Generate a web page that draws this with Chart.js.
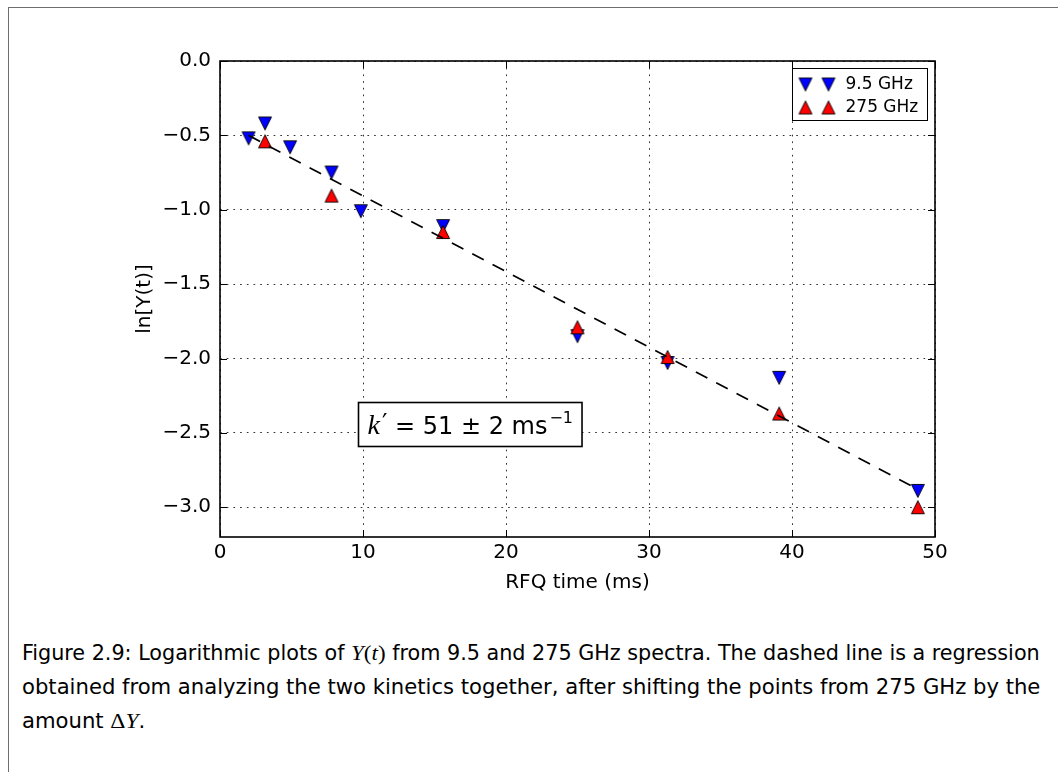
<!DOCTYPE html>
<html>
<head>
<meta charset="utf-8">
<script src="https://cdn.jsdelivr.net/npm/chart.js@4.4.1/dist/chart.umd.min.js"></script>
<style>
  html, body { margin: 0; padding: 0; background: #fff; overflow: hidden; width: 1058px; height: 772px; }
  #frame { position: absolute; left: 8px; top: 7px; width: 1100px; height: 800px; border: 1px solid #6e6e6e; }
  #wrap { position: absolute; left: 0; top: 0; width: 1058px; height: 600px; }
  .cap { position: absolute; left: 22px; white-space: nowrap; color: #000; line-height: 1;
         font: 22px "Liberation Sans Narrow", "DejaVu Sans Condensed", "Liberation Sans", sans-serif;
         transform-origin: 0 50%; }
  .m { font-family: "Liberation Serif", "DejaVu Serif", serif; }
  .m i { font-style: italic; }
</style>
</head>
<body>
<div id="frame"></div>
<div id="wrap"><canvas id="chart" width="1058" height="600"></canvas></div>
<div class="cap" id="cap1" style="top:640px">Figure 2.9: Logarithmic plots of <span class="m"><i>Y</i>(<i>t</i>)</span> from 9.5 and 275 GHz spectra. The dashed line is a regression</div>
<div class="cap" id="cap2" style="top:674px">obtained from analyzing the two kinetics together, after shifting the points from 275 GHz by the</div>
<div class="cap" id="cap3" style="top:708px">amount <span class="m">Δ<i>Y</i></span>.</div>
<script>
// 9.5 GHz kinetics
const times95 = [2.0, 3.15, 4.9, 7.8, 9.85, 15.6, 25.0, 31.3, 39.1, 48.8];
const lnY95 = [-0.52, -0.42, -0.58, -0.75, -1.01, -1.11, -1.85, -2.03, -2.13, -2.89];
// 275 GHz kinetics (shifted)
const times275 = [3.15, 7.8, 15.6, 25.0, 31.3, 39.1, 48.8];
const lnY275 = [-0.54, -0.905, -1.15, -1.79, -1.99, -2.37, -3.00];
// joint regression line
const fitTimes = [2.0, 48.8];
const fitLnY = [-0.50, -2.88];

const xTicks = [0, 10, 20, 30, 40, 50];
const yTicks = [0.0, -0.5, -1.0, -1.5, -2.0, -2.5, -3.0];
const seriesLabels = ['9.5 GHz', '275 GHz'];
const rateLabel = { k: 'k', rest: ' = 51 \u00b1 2 ms', sup: '\u22121', x: 17.45, y: -2.44 };

const pts = (xs, ys) => xs.map((x, i) => ({ x: x, y: ys[i] }));

// matplotlib-style triangles (as wide as tall)
function triangle(color, down) {
  const c = document.createElement('canvas');
  c.width = 16; c.height = 16;
  const g = c.getContext('2d');
  g.beginPath();
  if (down) { g.moveTo(1.5, 1.5); g.lineTo(14.5, 1.5); g.lineTo(8, 14.5); }
  else { g.moveTo(8, 1.5); g.lineTo(14.5, 14.5); g.lineTo(1.5, 14.5); }
  g.closePath();
  g.fillStyle = color; g.fill();
  g.lineWidth = 0.9; g.strokeStyle = '#000'; g.stroke();
  return c;
}
const downBlue = triangle('#0000ff', true);
const upRed = triangle('#ff0000', false);

const fmtMinus = v => (v < 0 ? '\u2212' : '') + Math.abs(v).toFixed(1);

// frame, inward ticks on all four sides, legend and rate box
const decor = {
  id: 'decor',
  afterDraw(chart) {
    const { ctx, chartArea: a, scales } = chart;
    const xs = scales.x, ys = scales.y;
    ctx.save();
    ctx.strokeStyle = '#000';
    ctx.lineWidth = 1;
    const tl = 7;
    ctx.beginPath();
    xTicks.forEach(v => {
      const p = Math.round(xs.getPixelForValue(v)) + 0.5;
      ctx.moveTo(p, a.bottom); ctx.lineTo(p, a.bottom - tl);
      ctx.moveTo(p, a.top); ctx.lineTo(p, a.top + tl);
    });
    yTicks.forEach(v => {
      const p = Math.round(ys.getPixelForValue(v)) + 0.5;
      ctx.moveTo(a.left, p); ctx.lineTo(a.left + tl, p);
      ctx.moveTo(a.right, p); ctx.lineTo(a.right - tl, p);
    });
    ctx.stroke();

    ctx.lineWidth = 1.6;
    ctx.strokeRect(a.left, a.top, a.right - a.left, a.bottom - a.top);

    // rate constant box
    const bx = xs.getPixelForValue(rateLabel.x), by = ys.getPixelForValue(rateLabel.y);
    const fK = 'italic 28px "Liberation Serif", "DejaVu Serif", serif';
    const fT = '24px "DejaVu Sans"';
    const fS = '16px "DejaVu Sans"';
    ctx.font = fK; const wk = ctx.measureText(rateLabel.k).width;
    ctx.font = fT; const wp = ctx.measureText('\u2032').width; const wr = ctx.measureText(rateLabel.rest).width;
    ctx.font = fS; const ws = ctx.measureText(rateLabel.sup).width;
    const tw = wk + 2 + wp + wr + 2 + ws;
    const bw = tw + 18, bh = 44;
    const x0 = Math.round(bx - bw / 2) + 0.5, y0 = Math.round(by - bh / 2) + 0.5;
    ctx.fillStyle = '#fff';
    ctx.fillRect(x0, y0, bw, bh);
    ctx.lineWidth = 1.6;
    ctx.strokeRect(x0, y0, bw, bh);
    ctx.fillStyle = '#000';
    ctx.textBaseline = 'alphabetic';
    ctx.textAlign = 'left';
    let tx = x0 + 9; const base = y0 + 31;
    ctx.font = fK; ctx.fillText(rateLabel.k, tx, base); tx += wk + 2;
    ctx.font = fT; ctx.fillText('\u2032', tx, base - 3); tx += wp;
    ctx.fillText(rateLabel.rest, tx, base); tx += wr + 2;
    ctx.font = fS; ctx.fillText(rateLabel.sup, tx, base - 11);

    // legend with two markers per entry
    const lx = Math.round(a.right - 143) + 0.5, ly = Math.round(a.top + 7) + 0.5;
    ctx.fillStyle = '#fff';
    ctx.fillRect(lx, ly, 135, 52);
    ctx.lineWidth = 1;
    ctx.strokeRect(lx, ly, 135, 52);
    ctx.font = '17px "DejaVu Sans"';
    ctx.textBaseline = 'middle';
    ctx.fillStyle = '#000';
    const marks = [downBlue, upRed];
    seriesLabels.forEach((lab, i) => {
      const cy = ly + 16 + i * 23;
      [lx + 13, lx + 36].forEach(cx => ctx.drawImage(marks[i], cx - 8, cy - 8));
      ctx.fillText(lab, lx + 53, cy);
    });
    ctx.restore();
  }
};

Chart.defaults.font.family = '"DejaVu Sans"';
Chart.defaults.color = '#000';

new Chart(document.getElementById('chart'), {
  type: 'scatter',
  data: {
    datasets: [
      {
        label: 'fit', type: 'line', data: pts(fitTimes, fitLnY), order: 0,
        borderColor: '#000', borderWidth: 1.7, borderDash: [13, 10],
        pointRadius: 0, fill: false, showLine: true
      },
      {
        label: seriesLabels[1], data: pts(times275, lnY275), order: 1,
        pointStyle: upRed, pointRadius: 8
      },
      {
        label: seriesLabels[0], data: pts(times95, lnY95), order: 2,
        pointStyle: downBlue, pointRadius: 8
      }
    ]
  },
  options: {
    responsive: false,
    animation: false,
    layout: { padding: { left: 120, top: 61, right: 123, bottom: 3 } },
    plugins: { legend: { display: false }, tooltip: { enabled: false } },
    scales: {
      x: {
        type: 'linear', min: 0, max: 50,
        afterBuildTicks: s => { s.ticks = xTicks.map(v => ({ value: v })); },
        afterFit: s => { s.height = 60; },
        ticks: { font: { size: 20 }, padding: 4, maxRotation: 0, callback: v => String(v) },
        grid: { color: '#000', lineWidth: 0.8, drawTicks: false },
        border: { display: false, dash: [1.7, 5] },
        title: { display: true, text: 'RFQ time (ms)', font: { size: 20 }, padding: { top: 0, bottom: 2 } }
      },
      y: {
        type: 'linear', min: -3.2, max: 0,
        afterBuildTicks: s => { s.ticks = yTicks.map(v => ({ value: v })); },
        afterFit: s => { s.width = 100; },
        ticks: { font: { size: 20 }, padding: 9, callback: v => fmtMinus(v) },
        grid: { color: '#000', lineWidth: 0.8, drawTicks: false },
        border: { display: false, dash: [1.7, 5] },
        title: { display: true, text: 'ln[Y(t)]', font: { size: 20 }, padding: { top: 13, bottom: 0 } }
      }
    }
  },
  plugins: [decor]
});

// caption lines are stretched to the text block width
function fitLine(id, w, s) {
  const el = document.getElementById(id);
  const k = s || (w / el.offsetWidth);
  el.style.transform = 'scaleX(' + k + ')';
  return k;
}
const k2 = fitLine('cap2', 1018);
fitLine('cap1', 1018);
fitLine('cap3', 0, k2);
</script>
</body>
</html>
